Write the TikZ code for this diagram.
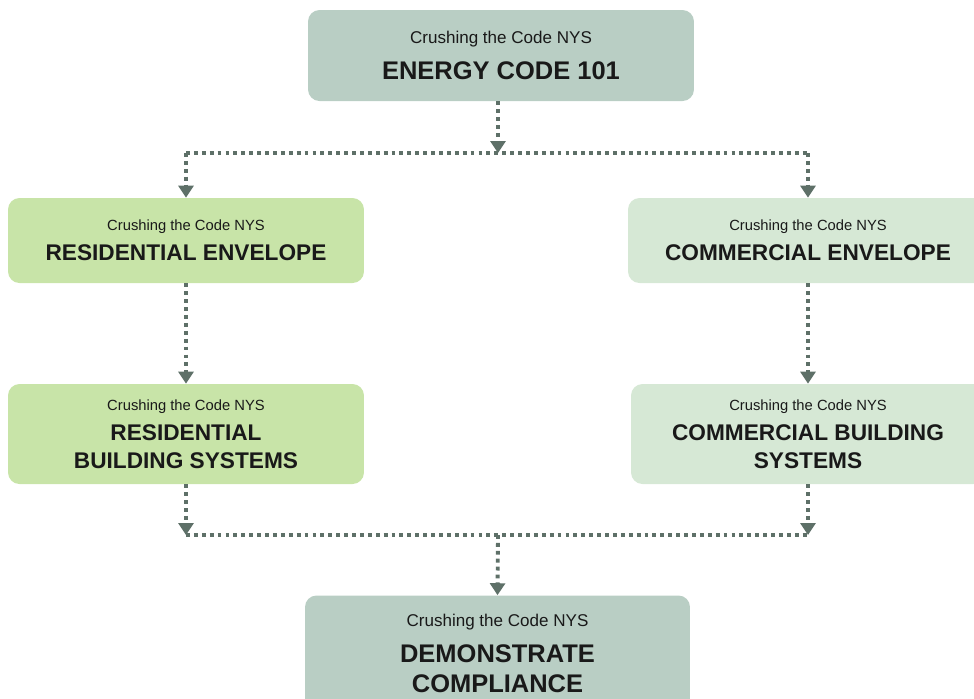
\documentclass[tikz,border=0pt]{standalone}
\usepackage{fontspec}
\setmainfont{Liberation Sans}
\usetikzlibrary{arrows.meta}

\definecolor{sagebox}{RGB}{185,206,196}
\definecolor{resgreen}{RGB}{200,228,168}
\definecolor{comgreen}{RGB}{214,232,213}
\definecolor{dotgray}{RGB}{94,112,104}

\begin{document}
\begin{tikzpicture}[x=0.02cm, y=-0.02cm,
    card/.style={rounded corners=6.5pt, align=center, inner sep=0pt, text=black!90},
    smallcard/.style={card, minimum width=7.12cm, font=\fontsize{12.9}{16}\selectfont\bfseries},
    bigcard/.style={card, fill=sagebox, font=\fontsize{14.5}{17.5}\selectfont\bfseries},
    link/.style={draw=dotgray, line width=2.2pt, dash pattern=on 2.2pt off 2.3pt},
    tip/.style={-{Triangle[width=8.5pt,length=6.8pt]}}]
  \useasboundingbox (0,0) rectangle (974,698);

  % the five course boxes
  \node[bigcard, minimum width=7.72cm, minimum height=1.82cm] (energy) at (501,55.5)
    {{\mdseries\fontsize{9.7}{12}\selectfont Crushing the Code NYS}\\[3.3pt]ENERGY CODE 101};
  \node[smallcard, fill=resgreen, minimum height=1.7cm] (resenv) at (186,240.5)
    {{\mdseries\fontsize{8.4}{10}\selectfont Crushing the Code NYS}\\[0.8pt]RESIDENTIAL ENVELOPE};
  \node[smallcard, fill=comgreen, minimum width=7.2cm, minimum height=1.7cm] (comenv) at (808,240.5)
    {{\mdseries\fontsize{8.4}{10}\selectfont Crushing the Code NYS}\\[0.8pt]COMMERCIAL ENVELOPE};
  \node[smallcard, fill=resgreen, minimum height=2cm] (ressys) at (186,434)
    {{\mdseries\fontsize{8.4}{10}\selectfont Crushing the Code NYS}\\[1pt]RESIDENTIAL\\BUILDING SYSTEMS};
  \node[smallcard, fill=comgreen, minimum width=7.08cm, minimum height=2cm] (comsys) at (808,434)
    {{\mdseries\fontsize{8.4}{10}\selectfont Crushing the Code NYS}\\[1pt]COMMERCIAL BUILDING\\SYSTEMS};
  \node[bigcard, minimum width=7.7cm, minimum height=2.32cm] (compliance) at (497.5,653.5)
    {{\mdseries\fontsize{9.7}{12}\selectfont Crushing the Code NYS}\\[3pt]DEMONSTRATE\\COMPLIANCE};

  % dotted connectors
  \coordinate (split) at (498,153);
  \coordinate (merge) at (498,535);
  \draw[link, tip] (split |- energy.south) -- (split);
  \draw[link] (resenv.north |- split) -- (comenv.north |- split);
  \draw[link, tip] (resenv.north |- split) -- (resenv.north);
  \draw[link, tip] (comenv.north |- split) -- (comenv.north);
  \draw[link, tip] (resenv.south) -- (ressys.north);
  \draw[link, tip] (comenv.south) -- (comsys.north);
  \draw[link, tip] (ressys.south) -- (ressys.south |- merge);
  \draw[link, tip] (comsys.south) -- (comsys.south |- merge);
  \draw[link] (ressys.south |- merge) -- (comsys.south |- merge);
  \draw[link, tip] (merge) -- (compliance.north);
\end{tikzpicture}
\end{document}
